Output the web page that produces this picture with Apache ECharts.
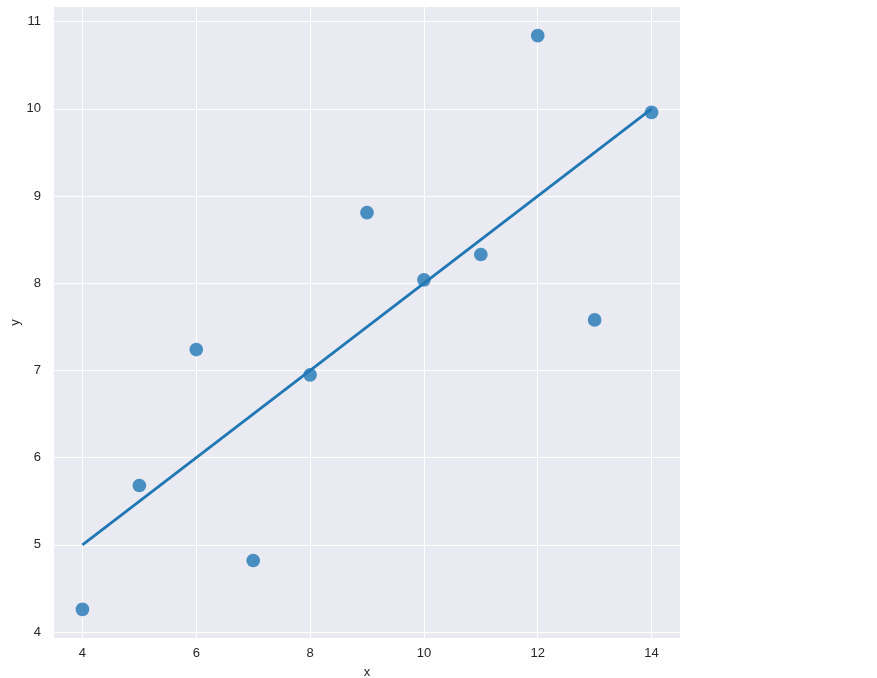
<!DOCTYPE html>
<html>
<head>
<meta charset="utf-8">
<script src="https://cdn.jsdelivr.net/npm/echarts@6/dist/echarts.min.js"></script>
<style>
  html, body { margin: 0; padding: 0; background: #fff; }
  #chart { width: 877px; height: 678px; }
</style>
</head>
<body>
<div id="chart"></div>
<script>
// Anscombe I
const xValues = [10, 8, 13, 9, 11, 14, 6, 4, 12, 7, 5];
const yValues = [8.04, 6.95, 7.58, 8.81, 8.33, 9.96, 7.24, 4.26, 10.84, 4.82, 5.68];
const fitX = [4, 14];
const fitY = [5.0, 10.0];
const xTicks = [4, 6, 8, 10, 12, 14];
const yTicks = [4, 5, 6, 7, 8, 9, 10, 11];

const points = xValues.map((x, i) => [x, yValues[i]]);
const fitLine = fitX.map((x, i) => [x, fitY[i]]);

const labelStyle = { color: '#262626', fontSize: 13, fontFamily: 'Liberation Sans, Arial, sans-serif' };

const chart = echarts.init(document.getElementById('chart'));
chart.setOption({
  animation: false,
  grid: {
    left: 54, top: 7, width: 626, height: 631,
    outerBoundsMode: 'none', containLabel: false,
    show: true, backgroundColor: '#eaeaf2', borderWidth: 0
  },
  xAxis: {
    type: 'value',
    min: 3.5, max: 14.5,
    name: 'x', nameLocation: 'middle', nameGap: 28,
    nameMoveOverlap: false,
    nameTextStyle: labelStyle,
    axisLine: { show: false },
    axisTick: { show: false, customValues: xTicks },
    axisLabel: Object.assign({ customValues: xTicks, margin: 9 }, labelStyle),
    splitLine: { show: true, lineStyle: { color: '#fff', width: 1 } }
  },
  yAxis: {
    type: 'value',
    min: 3.931, max: 11.169,
    name: 'y', nameLocation: 'middle', nameGap: 32,
    nameMoveOverlap: false,
    nameTextStyle: labelStyle,
    axisLine: { show: false },
    axisTick: { show: false, customValues: yTicks },
    axisLabel: Object.assign({ customValues: yTicks, margin: 13 }, labelStyle),
    splitLine: { show: true, lineStyle: { color: '#fff', width: 1 } }
  },
  series: [
    {
      type: 'scatter',
      data: points,
      symbolSize: 13.7,
      itemStyle: { color: '#1f77b4', opacity: 0.8 },
      z: 2
    },
    {
      type: 'line',
      data: fitLine,
      showSymbol: false,
      lineStyle: { color: '#1f77b4', width: 2.8 },
      z: 3
    }
  ]
});
</script>
</body>
</html>
